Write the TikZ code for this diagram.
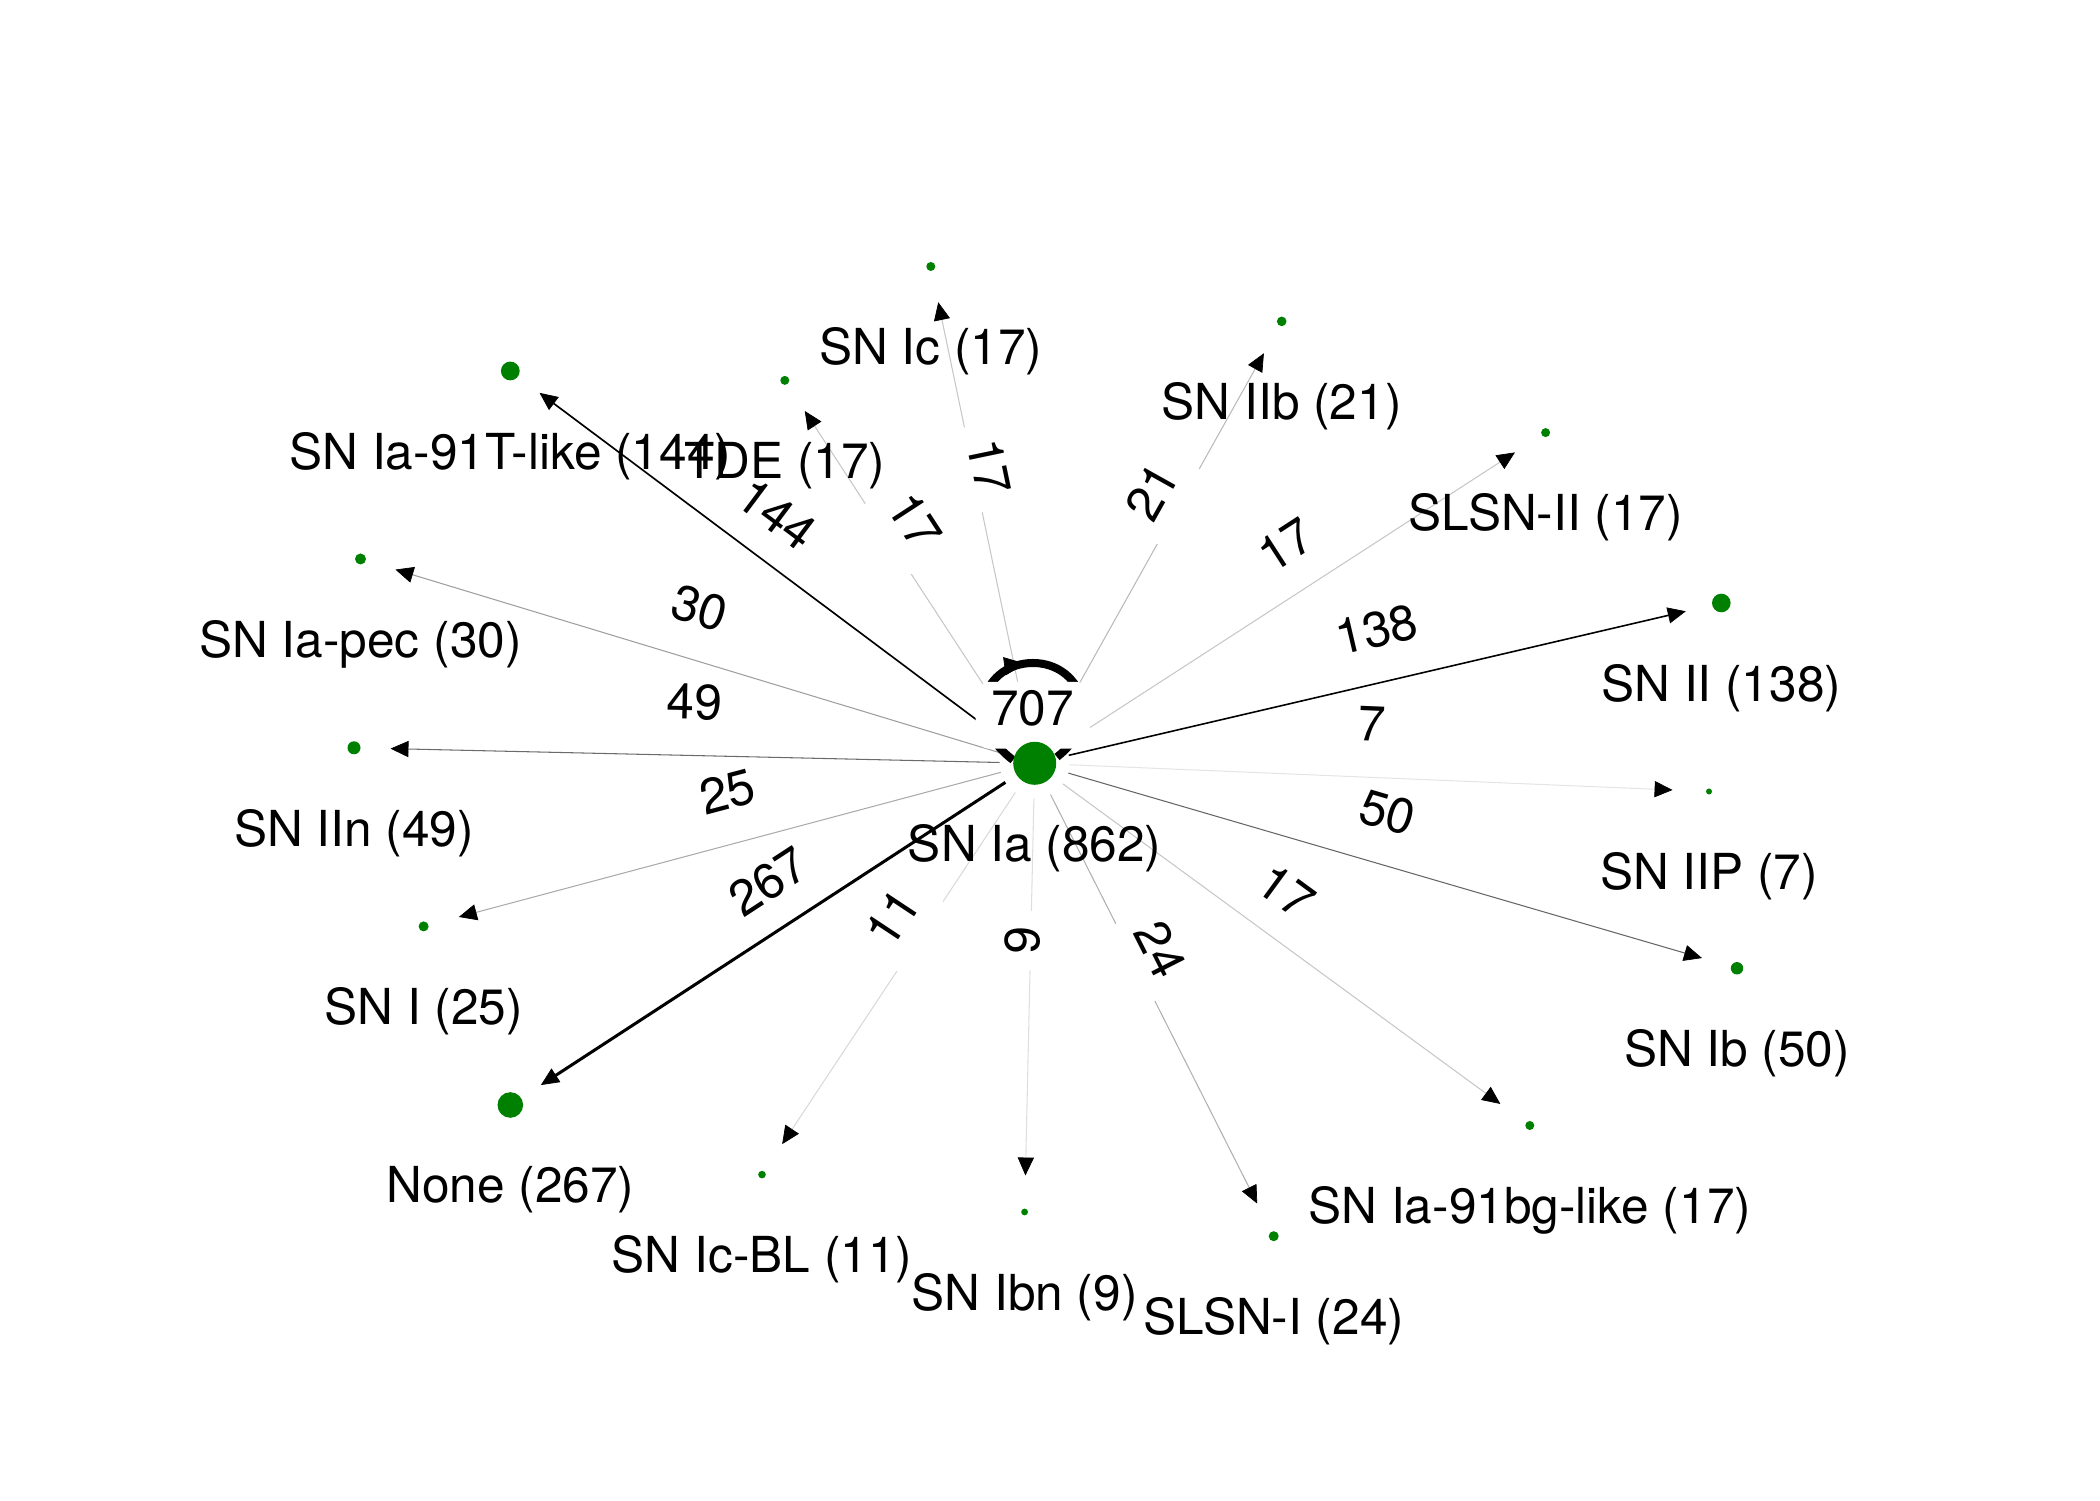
\documentclass[tikz,border=0pt]{standalone}
\usepackage{fontspec}
\setmainfont{TeX Gyre Heros}
\usetikzlibrary{calc,arrows.meta,decorations.markings}
\definecolor{nodegreen}{HTML}{008000}
\pgfdeclarelayer{front}
\pgfsetlayers{main,front}
\begin{document}
\begin{tikzpicture}[x=0.01cm,y=0.01cm,
  every node/.style={font=\fontsize{14.1pt}{17pt}\selectfont},
  dot/.style={circle,fill=nodegreen,draw=none,inner sep=0pt},
  nlab/.style={inner sep=0pt},
  elab/.style={fill=white,rounded corners=4pt,inner sep=4.5pt,text height=0.8em,text depth=0.2em},
  edge/.style={-{Triangle[length=5.1pt,width=4.6pt,color=black,line width=0.2pt]}},
  thin edge/.style={edge,line width=0.3pt},
]
\path[use as bounding box] (0,0) rectangle (2100,1500);

% ---------- nodes (dots) ----------
\begin{pgfonlayer}{front}
\node[dot,minimum size=0.43cm,outer sep=0.135cm]  (ia)    at (1034.7,736.7) {};
\node[dot,minimum size=0.188cm,outer sep=0.271cm] (n91t)  at (510.3,1129) {};
\node[dot,minimum size=0.09cm,outer sep=0.32cm]   (ntde)  at (784.8,1119.6) {};
\node[dot,minimum size=0.09cm,outer sep=0.32cm]   (nic)   at (930.8,1233.5) {};
\node[dot,minimum size=0.096cm,outer sep=0.317cm] (niib)  at (1281.7,1178.6) {};
\node[dot,minimum size=0.09cm,outer sep=0.32cm]   (nsl2)  at (1545.6,1067.4) {};
\node[dot,minimum size=0.186cm,outer sep=0.272cm] (nii)   at (1721.3,897) {};
\node[dot,minimum size=0.06cm,outer sep=0.335cm]  (niip)  at (1709,708.5) {};
\node[dot,minimum size=0.124cm,outer sep=0.303cm] (nib)   at (1737,531.7) {};
\node[dot,minimum size=0.09cm,outer sep=0.32cm]   (n91bg) at (1529.8,374.5) {};
\node[dot,minimum size=0.10cm,outer sep=0.315cm]  (nsl1)  at (1273.7,263.8) {};
\node[dot,minimum size=0.068cm,outer sep=0.331cm] (nibn)  at (1024.6,288) {};
\node[dot,minimum size=0.076cm,outer sep=0.327cm] (nicbl) at (762,325.4) {};
\node[dot,minimum size=0.256cm,outer sep=0.237cm] (nnone) at (510.3,395) {};
\node[dot,minimum size=0.10cm,outer sep=0.315cm]  (nsni)  at (423.6,573.6) {};
\node[dot,minimum size=0.13cm,outer sep=0.30cm]   (niin)  at (354,752.2) {};
\node[dot,minimum size=0.11cm,outer sep=0.31cm]   (npec)  at (360.5,941) {};
\end{pgfonlayer}

% ---------- edges ----------
\draw[edge,line width=0.86pt] (ia) -- (nnone);
\draw[edge,line width=0.47pt] (ia) -- (n91t);
\draw[edge,line width=0.45pt] (ia) -- (nii);
\draw[thin edge,draw=black!60] (ia) -- (nib);
\draw[thin edge,draw=black!58] (ia) -- (niin);
\draw[thin edge,draw=black!38] (ia) -- (npec);
\draw[thin edge,draw=black!33] (ia) -- (nsni);
\draw[thin edge,draw=black!31] (ia) -- (nsl1);
\draw[thin edge,draw=black!27] (ia) -- (niib);
\draw[thin edge,draw=black!22] (ia) -- (ntde);
\draw[thin edge,draw=black!22] (ia) -- (nic);
\draw[thin edge,draw=black!22] (ia) -- (nsl2);
\draw[thin edge,draw=black!22] (ia) -- (n91bg);
\draw[thin edge,draw=black!15] (ia) -- (nicbl);
\draw[thin edge,draw=black!13] (ia) -- (nibn);
\draw[thin edge,draw=black!10] (ia) -- (niip);

% self loop
\draw[line width=2.28pt, postaction={decorate},
  decoration={markings, mark=at position 0.48 with {\arrow{Triangle[length=6pt,width=5.2pt,line width=0.2pt]}}}]
  ($(ia)+(-21.7,3.3)$) .. controls ($(ia)+(-74.7,43.3)$) and ($(ia)+(-49.7,100.3)$) .. ($(ia)+(-1.7,100.3)$)
  .. controls ($(ia)+(45.3,100.3)$) and ($(ia)+(70.3,43.3)$) .. ($(ia)+(22.3,6.3)$);

% ---------- edge labels ----------
\node[elab,rotate=-36.8] (l144)  at ($(ia)!0.5!(n91t)+(0,47)$)  {144};
\node[elab,rotate=-56.9] (ltde)  at ($(ia)!0.5!(ntde)+(0,47)$)  {17};
\node[elab,rotate=-78.2] (lic)   at ($(ia)!0.5!(nic)+(0,47)$)   {17};
\node[elab,rotate=60.8]  (liib)  at ($(ia)!0.5!(niib)+(0,47)$)  {21};
\node[elab,rotate=32.9]  (lsl2)  at ($(ia)!0.5!(nsl2)+(0,47)$)  {17};
\node[elab,rotate=13.2]  (lii)   at ($(ia)!0.5!(nii)+(0,47)$)   {138};
\node[elab,rotate=-2.4]  (liip)  at ($(ia)!0.5!(niip)+(0,47)$)  {7};
\node[elab,rotate=-16.3] (lib)   at ($(ia)!0.5!(nib)+(0,47)$)   {50};
\node[elab,rotate=-36.2] (l91bg) at ($(ia)!0.5!(n91bg)+(0,47)$) {17};
\node[elab,rotate=-63.2] (lsl1)  at ($(ia)!0.5!(nsl1)+(0,47)$)  {24};
\node[elab,rotate=88.7]  (libn)  at ($(ia)!0.5!(nibn)+(0,47)$)  {9};
\node[elab,rotate=56.5]  (licbl) at ($(ia)!0.5!(nicbl)+(0,47)$) {11};
\node[elab,rotate=33.1]  (lnone) at ($(ia)!0.5!(nnone)+(0,47)$) {267};
\node[elab,rotate=14.9]  (lsni)  at ($(ia)!0.5!(nsni)+(0,47)$)  {25};
\node[elab,rotate=-1.3]  (liin)  at ($(ia)!0.5!(niin)+(0,47)$)  {49};
\node[elab,rotate=-16.9] (lpec)  at ($(ia)!0.5!(npec)+(0,47)$)  {30};
\node[elab] (l707) at ($(ia)+(-2,48)$) {707};

% ---------- node labels ----------
\node[nlab] (tia)   at ($(ia)+(0,-84.5)$)  {SN Ia (862)};
\node[nlab] (t91t)  at ($(n91t)+(0,-85)$)  {SN Ia-91T-like (144)};
\node[nlab] (ttde)  at ($(ntde)+(0,-85)$)  {TDE (17)};
\node[nlab] (tic)   at ($(nic)+(0,-85)$)   {SN Ic (17)};
\node[nlab] (tiib)  at ($(niib)+(0,-85)$)  {SN IIb (21)};
\node[nlab] (tsl2)  at ($(nsl2)+(0,-85)$)  {SLSN-II (17)};
\node[nlab] (tii)   at ($(nii)+(0,-85)$)   {SN II (138)};
\node[nlab] (tiip)  at ($(niip)+(0,-85)$)  {SN IIP (7)};
\node[nlab] (tib)   at ($(nib)+(0,-85)$)   {SN Ib (50)};
\node[nlab] (t91bg) at ($(n91bg)+(0,-85)$) {SN Ia-91bg-like (17)};
\node[nlab] (tsl1)  at ($(nsl1)+(0,-85)$)  {SLSN-I (24)};
\node[nlab] (tibn)  at ($(nibn)+(0,-85)$)  {SN Ibn (9)};
\node[nlab] (ticbl) at ($(nicbl)+(0,-85)$) {SN Ic-BL (11)};
\node[nlab] (tnone) at ($(nnone)+(0,-85)$) {None (267)};
\node[nlab] (tsni)  at ($(nsni)+(0,-85)$)  {SN I (25)};
\node[nlab] (tiin)  at ($(niin)+(0,-85)$)  {SN IIn (49)};
\node[nlab] (tpec)  at ($(npec)+(0,-85)$)  {SN Ia-pec (30)};
\end{tikzpicture}
\end{document}
